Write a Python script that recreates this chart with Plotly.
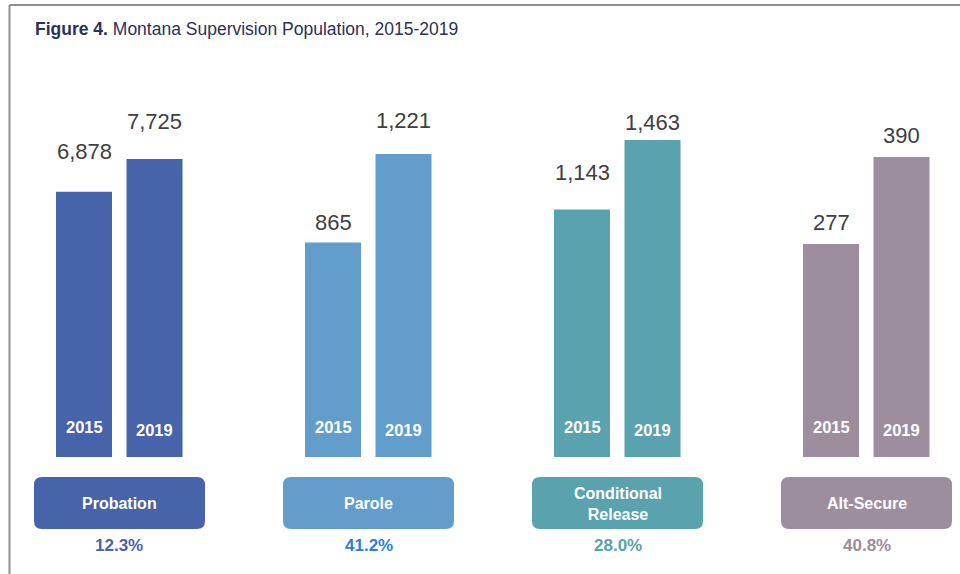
import plotly.graph_objects as go

# Supervision population by type, 2015 vs 2019
categories = ["Probation", "Parole", "Conditional<br>Release", "Alt-Secure"]
years = ["2015", "2019"]
values_2015 = [6878, 865, 1143, 277]
values_2019 = [7725, 1221, 1463, 390]

# styling
bar_colors = ["#4763AA", "#639DCC", "#5AA2AD", "#9D8E9D"]
pct_colors = ["#4763AA", "#2E7FD1", "#58A1AC", "#9B8C9B"]
y_max = [9254, 1439, 1648, 464]          # each panel has its own scale
label_shift = [[40, 37], [20, 34], [37, 18], [21, 21]]
year_shift = [30, 27]

W, H = 960, 574
FONT = "Liberation Sans, Arial, sans-serif"
panel_left = [34, 283, 532, 781]
panel_w = 171
bar_step = 70.5
first_bar_offset = 50
bar_w = 56
plot_bottom, plot_top = 457, 100
box_top, box_bottom = 477, 529
r_px = 8


def py(p):
    return 1 - p / H


fig = go.Figure()
annotations = []
shapes = []
layout = {}

for i, cat in enumerate(categories):
    n = i + 1
    xa = "x" if n == 1 else f"x{n}"
    ya = "y" if n == 1 else f"y{n}"
    vals = [values_2015[i], values_2019[i]]
    fig.add_trace(go.Bar(
        x=[0, 1], y=vals, width=bar_w / bar_step,
        marker=dict(color=bar_colors[i], line=dict(width=0)),
        xaxis=xa, yaxis=ya, showlegend=False,
        hovertemplate="%{y:,}<extra></extra>",
    ))
    left = panel_left[i]
    layout[f"xaxis{'' if n == 1 else n}"] = dict(
        domain=[left / W, (left + panel_w) / W],
        range=[-first_bar_offset / bar_step, (panel_w - first_bar_offset) / bar_step],
        showgrid=False, zeroline=False, showticklabels=False, ticks="",
        anchor=ya, fixedrange=True,
    )
    layout[f"yaxis{'' if n == 1 else n}"] = dict(
        domain=[py(plot_bottom), py(plot_top)],
        range=[0, y_max[i]],
        showgrid=False, zeroline=False, showticklabels=False, ticks="",
        anchor=xa, fixedrange=True,
    )

    for j, v in enumerate(vals):
        # value above bar
        annotations.append(dict(
            x=j, y=v, xref=xa, yref=ya, text=f"{v:,}", showarrow=False,
            yanchor="middle", yshift=label_shift[i][j],
            font=dict(family=FONT, size=22, color="#404040"),
        ))
        # year inside bar
        annotations.append(dict(
            x=j, y=0, xref=xa, yref=ya, text=f"<b>{years[j]}</b>", showarrow=False,
            yanchor="middle", yshift=year_shift[j],
            font=dict(family=FONT, size=16.5, color="white"),
        ))

    # rounded category box under each panel
    dref = f"{xa} domain"
    x0, x1 = 0, 1
    y0, y1 = py(box_bottom), py(box_top)
    rx, ry = r_px / panel_w, r_px / H
    path = (f"M {x0 + rx},{y0} L {x1 - rx},{y0} Q {x1},{y0} {x1},{y0 + ry} "
            f"L {x1},{y1 - ry} Q {x1},{y1} {x1 - rx},{y1} L {x0 + rx},{y1} "
            f"Q {x0},{y1} {x0},{y1 - ry} L {x0},{y0 + ry} Q {x0},{y0} {x0 + rx},{y0} Z")
    shapes.append(dict(type="path", path=path, xref=dref, yref="paper",
                       fillcolor=bar_colors[i], line=dict(width=0), layer="above"))
    annotations.append(dict(
        x=0.5, y=py((box_top + box_bottom) / 2 + 0.5), xref=dref, yref="paper",
        text=f"<b>{cat}</b>", showarrow=False, yanchor="middle",
        font=dict(family=FONT, size=16, color="white"),
    ))
    # percent change 2015 -> 2019
    pct = (values_2019[i] / values_2015[i] - 1) * 100
    annotations.append(dict(
        x=0.5, y=py(545), xref=dref, yref="paper",
        text=f"<b>{pct:.1f}%</b>", showarrow=False, yanchor="middle",
        font=dict(family=FONT, size=17, color=pct_colors[i]),
    ))

# title
annotations.append(dict(
    x=33 / W, y=py(29), xref="paper", yref="paper", xanchor="left", yanchor="middle",
    text="<b>Figure 4.</b> Montana Supervision Population, 2015-2019", showarrow=False,
    font=dict(family=FONT, size=17.5, color="#2B3157"),
))

# frame lines (left and top)
shapes.append(dict(type="line", xref="paper", yref="paper",
                   x0=9.5 / W, x1=1, y0=py(5), y1=py(5),
                   line=dict(color="#8F8F8F", width=2)))
shapes.append(dict(type="line", xref="paper", yref="paper",
                   x0=9.5 / W, x1=9.5 / W, y0=py(5), y1=0,
                   line=dict(color="#8F8F8F", width=2)))

fig.update_layout(
    width=W, height=H, margin=dict(l=0, r=0, t=0, b=0),
    paper_bgcolor="white", plot_bgcolor="white",
    annotations=annotations, shapes=shapes, **layout,
)

fig.write_html("out.html")
